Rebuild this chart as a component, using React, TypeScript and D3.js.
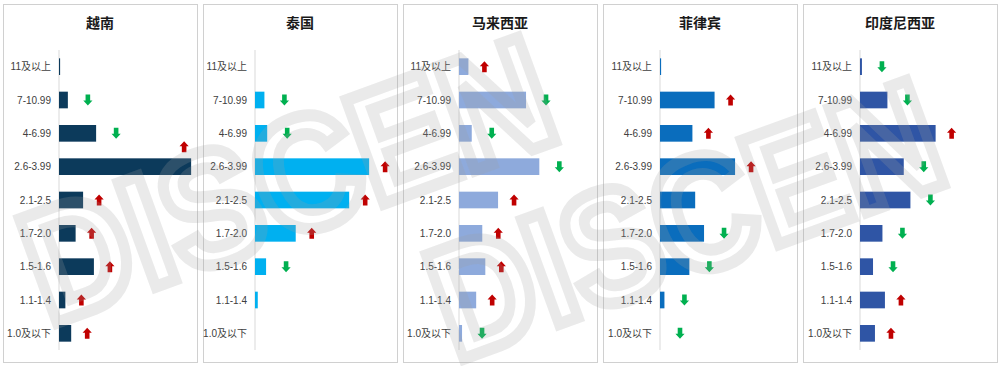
import * as d3 from "d3";

// Size bands (categories), top to bottom
const CATEGORIES = [
  "11及以上",
  "7-10.99",
  "4-6.99",
  "2.6-3.99",
  "2.1-2.5",
  "1.7-2.0",
  "1.5-1.6",
  "1.1-1.4",
  "1.0及以下",
];

const COUNTRIES = ["越南", "泰国", "马来西亚", "菲律宾", "印度尼西亚"];

// Share (%) per band
const VIETNAM = [0.4, 3.2, 13.4, 47.7, 8.7, 6.0, 12.6, 2.3, 4.4];
const THAILAND = [0, 3.4, 4.4, 41.2, 34.0, 14.7, 4.0, 1.0, 0];
const MALAYSIA = [3.4, 24.2, 4.6, 29.0, 14.1, 8.4, 9.5, 6.2, 1.1];
const PHILIPPINES = [0.4, 19.7, 11.7, 27.1, 12.7, 15.9, 10.6, 1.6, 0];
const INDONESIA = [0.7, 9.9, 27.3, 15.8, 18.2, 8.1, 4.7, 9.0, 5.4];

// Trend arrows: 1 = up (red), -1 = down (green), 0 = none
const VIETNAM_TREND = [0, -1, -1, 1, 1, 1, 1, 1, 1];
const THAILAND_TREND = [0, -1, -1, 1, 1, 1, -1, 0, 0];
const MALAYSIA_TREND = [1, -1, -1, -1, 1, 1, 1, 1, -1];
const PHILIPPINES_TREND = [0, 1, 1, 1, 0, -1, -1, -1, -1];
const INDONESIA_TREND = [-1, -1, 1, -1, -1, -1, -1, 1, 1];

const SERIES = [VIETNAM, THAILAND, MALAYSIA, PHILIPPINES, INDONESIA];
const TRENDS = [
  VIETNAM_TREND,
  THAILAND_TREND,
  MALAYSIA_TREND,
  PHILIPPINES_TREND,
  INDONESIA_TREND,
];

const BAR_COLORS = ["#0c3a5b", "#00b0f0", "#8eaadc", "#0a6dbd", "#2f55a5"];
const UP_COLOR = "#c00000";
const DOWN_COLOR = "#00b050";

const WIDTH = 1005;
const HEIGHT = 366;
const PANEL_W = 194;
const PANEL_STEP = 200;
const PANEL_TOP = 4;
const PANEL_H = 358;
const AXIS_OFFSET = [56, 52, 56, 57, 57];
const FONT = "'Liberation Sans', Arial, 'Noto Sans CJK SC', sans-serif";

const y = d3
  .scaleBand()
  .domain(CATEGORIES)
  .range([50, 350])
  .paddingInner(0.5)
  .paddingOuter(0.25);

const x = d3.scaleLinear().domain([0, 50]).range([0, 138.5]);

// block arrow pointing up, centred on 0,0
const ARROW_PATH =
  "M0,-5.5 L4.6,-0.5 L2.3,-0.5 L2.3,5.5 L-2.3,5.5 L-2.3,-0.5 L-4.6,-0.5 Z";

function Panel({ index }) {
  const left = 3 + index * PANEL_STEP;
  const axisX = left + AXIS_OFFSET[index];
  const values = SERIES[index];
  const trend = TRENDS[index];

  return (
    <g>
      <rect
        x={left + 0.5}
        y={PANEL_TOP + 0.5}
        width={PANEL_W}
        height={PANEL_H}
        fill="#fff"
        stroke="#d0d0d0"
      />
      <text
        x={left + PANEL_W / 2}
        y={28}
        textAnchor="middle"
        fontSize={14}
        fontWeight="bold"
        fill="#1a1a1a"
        fontFamily={FONT}
      >
        {COUNTRIES[index]}
      </text>
      <line x1={axisX} x2={axisX} y1={50} y2={350} stroke="#d9d9d9" />
      {CATEGORIES.map((c, i) => {
        const cy = y(c) + y.bandwidth() / 2;
        const w = x(values[i]);
        const end = axisX + w;
        const t = trend[i];
        let ax = end + (t > 0 ? 16 : 20);
        let ay = cy;
        if (ax + 4.6 > left + PANEL_W) {
          // no room at the right: sit above the bar end
          ax = end - 7;
          ay = cy - 20;
        }
        return (
          <g key={c}>
            <text
              x={axisX - 8}
              y={cy}
              dy="0.35em"
              textAnchor="end"
              fontSize={10}
              fill="#404040"
              fontFamily={FONT}
            >
              {c}
            </text>
            {w > 0 && (
              <rect
                x={axisX}
                y={y(c)}
                width={w}
                height={y.bandwidth()}
                fill={BAR_COLORS[index]}
              />
            )}
            {t !== 0 && (
              <path
                d={ARROW_PATH}
                fill={t > 0 ? UP_COLOR : DOWN_COLOR}
                transform={`translate(${ax},${ay}) scale(1,${t > 0 ? 1 : -1})`}
              />
            )}
          </g>
        );
      })}
    </g>
  );
}

export default function App() {
  return (
    <svg
      width={WIDTH}
      height={HEIGHT}
      viewBox={`0 0 ${WIDTH} ${HEIGHT}`}
      style={{ position: "absolute", left: 0, top: 0, background: "#fff" }}
    >
      {COUNTRIES.map((c, i) => (
        <Panel key={c} index={i} />
      ))}
      {/* faint hollow logo watermark */}
      <g
        fill="none"
        stroke="#a0a0a0"
        strokeOpacity={0.22}
        strokeWidth={12}
        fontFamily={FONT}
        fontWeight="bold"
        fontSize={160}
      >
        <text
          transform="translate(48,326) rotate(-20)"
          textLength={550}
          lengthAdjust="spacingAndGlyphs"
        >
          DISCEN
        </text>
        <text
          transform="translate(455,362) rotate(-20)"
          textLength={530}
          lengthAdjust="spacingAndGlyphs"
        >
          DISCEN
        </text>
      </g>
    </svg>
  );
}
